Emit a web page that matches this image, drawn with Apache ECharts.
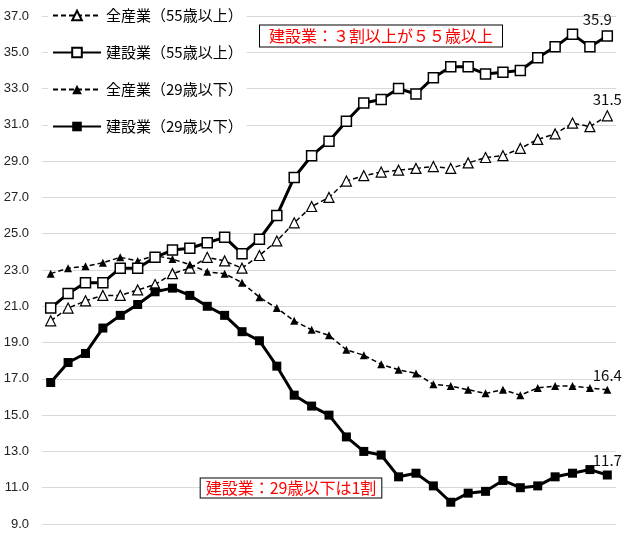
<!DOCTYPE html>
<html>
<head>
<meta charset="utf-8">
<script src="https://cdn.jsdelivr.net/npm/echarts@6/dist/echarts.min.js"></script>
<style>
  html, body { margin: 0; padding: 0; background: #fff; }
  #chart { width: 629px; height: 533px; }
</style>
</head>
<body>
<div id="chart"></div>
<script>
// 年次（横軸ラベルは非表示）
const years = []
for (let y = 1987; y <= 2019; y++) years.push(String(y))

const seriesNames = ['全産業（55歳以上）', '建設業（55歳以上）', '全産業（29歳以下）', '建設業（29歳以下）']

const all55 = [20.2, 20.9, 21.3, 21.6, 21.6, 21.9, 22.2, 22.8, 23.1, 23.7, 23.5, 23.1, 23.8, 24.6, 25.6, 26.5, 27.0,
  27.9, 28.2, 28.4, 28.5, 28.6, 28.7, 28.6, 28.9, 29.2, 29.3, 29.7, 30.2, 30.5, 31.1, 30.9, 31.5]
const const55 = [20.9, 21.7, 22.3, 22.3, 23.1, 23.1, 23.7, 24.1, 24.2, 24.5, 24.8, 23.9, 24.7, 26.0, 28.1, 29.3, 30.1,
  31.2, 32.2, 32.4, 33.0, 32.7, 33.6, 34.2, 34.2, 33.8, 33.9, 34.0, 34.7, 35.3, 36.0, 35.3, 35.9]
const all29 = [22.8, 23.1, 23.2, 23.4, 23.7, 23.5, 23.8, 23.6, 23.3, 22.9, 22.8, 22.3, 21.5, 20.9, 20.2, 19.7, 19.4,
  18.6, 18.3, 17.8, 17.5, 17.3, 16.7, 16.6, 16.4, 16.2, 16.4, 16.1, 16.5, 16.6, 16.6, 16.5, 16.4]
const const29 = [16.8, 17.9, 18.4, 19.8, 20.5, 21.1, 21.8, 22.0, 21.6, 21.0, 20.5, 19.6, 19.1, 17.7, 16.1, 15.5, 15.0,
  13.8, 13.0, 12.8, 11.6, 11.8, 11.1, 10.2, 10.7, 10.8, 11.4, 11.0, 11.1, 11.6, 11.8, 12.0, 11.7]

const yMin = 9
const yMax = 37
const yStep = 2

const note55 = '建設業：３割以上が５５歳以上'
const note29 = '建設業：29歳以下は1割'

const font = '"Noto Sans CJK JP", "Noto Sans", sans-serif'

// 最終年だけ値ラベルを出す
function withEndLabel(values, offsetX) {
  return values.map((v, i) => {
    if (i !== values.length - 1) return v
    return {
      value: v,
      label: {
        show: true,
        position: 'top',
        distance: 3,
        offset: [offsetX || 0, 0],
        color: '#111',
        fontSize: 15,
        fontFamily: font,
        formatter: p => p.value.toFixed(1)
      }
    }
  })
}

function makeSeries(name, values, opts) {
  return {
    name: name,
    type: 'line',
    data: withEndLabel(values, opts.labelOffset),
    symbol: opts.symbol,
    symbolSize: opts.size,
    showAllSymbol: true,
    z: opts.z,
    lineStyle: { color: '#000', width: opts.width, type: opts.dash ? [5, 3] : 'solid' },
    itemStyle: { color: opts.fill, borderColor: '#000', borderWidth: opts.border },
    emphasis: { disabled: true },
    animation: false
  }
}

const chart = echarts.init(document.getElementById('chart'))
chart.setOption({
  backgroundColor: '#fff',
  textStyle: { fontFamily: font },
  grid: { left: 42, right: 13, top: 16, bottom: 9, containLabel: false },
  legend: {
    orient: 'vertical',
    left: 48,
    top: 4,
    padding: [4, 4],
    itemGap: 22,
    itemWidth: 48,
    itemHeight: 12,
    backgroundColor: '#fff',
    selectedMode: false,
    textStyle: { fontSize: 15, color: '#000', fontFamily: font },
    data: seriesNames
  },
  xAxis: {
    type: 'category',
    data: years,
    boundaryGap: true,
    axisLine: { show: false },
    axisTick: { show: false },
    axisLabel: { show: false },
    splitLine: { show: false }
  },
  yAxis: {
    type: 'value',
    min: yMin,
    max: yMax,
    interval: yStep,
    axisLine: { show: false },
    axisTick: { show: false },
    axisLabel: {
      margin: 13,
      fontSize: 13,
      color: '#222',
      fontFamily: 'Arial, "Liberation Sans", sans-serif',
      formatter: v => v.toFixed(1)
    },
    splitLine: { lineStyle: { color: '#d9d9d9', width: 1 } }
  },
  series: [
    makeSeries(seriesNames[0], all55, { symbol: 'triangle', size: 10, fill: '#fff', border: 1.2, width: 1.5, dash: true, z: 2 }),
    makeSeries(seriesNames[1], const55, { symbol: 'rect', size: 10, fill: '#fff', border: 1.5, width: 3, z: 4, labelOffset: -10 }),
    makeSeries(seriesNames[2], all29, { symbol: 'triangle', size: 8, fill: '#000', border: 0, width: 1.5, dash: true, z: 2 }),
    makeSeries(seriesNames[3], const29, { symbol: 'rect', size: 9, fill: '#000', border: 0, width: 3, z: 3 })
  ],
  graphic: [
    {
      type: 'text',
      x: 381,
      y: 36,
      z: 10,
      style: {
        text: note55,
        fill: '#ff0000',
        font: '16px ' + font,
        align: 'center',
        verticalAlign: 'middle',
        backgroundColor: '#fff',
        borderColor: '#000',
        borderWidth: 1,
        padding: [3, 9, 2, 9]
      }
    },
    {
      type: 'text',
      x: 291,
      y: 488,
      z: 10,
      style: {
        text: note29,
        fill: '#ff0000',
        font: '16px ' + font,
        align: 'center',
        verticalAlign: 'middle',
        backgroundColor: '#fff',
        borderColor: '#000',
        borderWidth: 1,
        padding: [2, 5, 1, 5]
      }
    }
  ]
})
</script>
</body>
</html>
